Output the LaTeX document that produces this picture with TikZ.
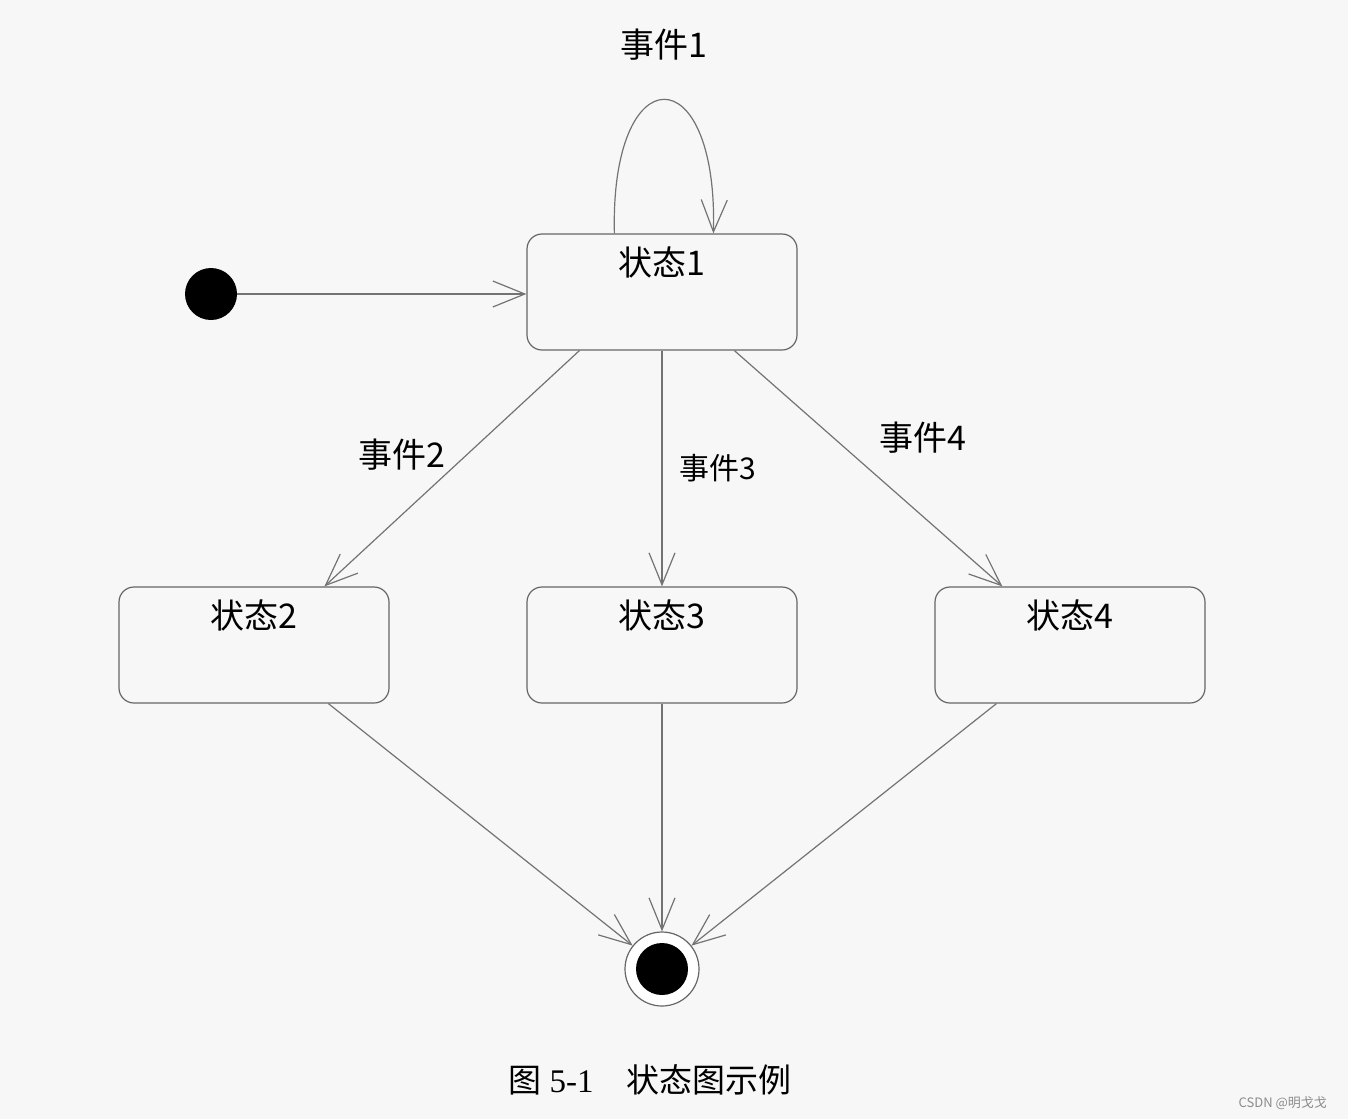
\documentclass[tikz,border=0pt]{standalone}
\usepackage{fontspec}
\setmainfont{Liberation Serif}
\newfontfamily\cjk{Noto Sans CJK SC}
\usepackage{tikz}
\usepackage{xcolor}
\usetikzlibrary{arrows.meta}

\begin{document}
\begin{tikzpicture}[x=0.5pt,y=-0.5pt,
  every node/.style={font=\cjk\fontsize{17}{20}\selectfont},
  state/.style={draw=black!60,line width=0.6pt,rounded corners=7.5pt,
    minimum width=135pt,minimum height=58pt,inner sep=0pt},
  trans/.style={draw=black!55,line width=0.6pt,-{Straight Barb[length=16pt,width=13pt]}}]
\fill[black!3] (0,0) rectangle (1348,1119);
\useasboundingbox (0,0) rectangle (1348,1119);
% states
\node[circle,fill=black,minimum size=26pt,inner sep=0pt] (init) at (211,294) {};
\node[state,label={[anchor=north,yshift=-3pt]north:状态1}] (s1) at (662,292) {};
\node[state,label={[anchor=north,yshift=-3pt]north:状态2}] (s2) at (254,645) {};
\node[state,label={[anchor=north,yshift=-3pt]north:状态3}] (s3) at (662,645) {};
\node[state,label={[anchor=north,yshift=-3pt]north:状态4}] (s4) at (1070,645) {};
\node[circle,draw=black!60,line width=0.6pt,fill=white,minimum size=37pt,inner sep=0pt] (fin) at (662,969) {};
\fill[black] (fin) circle (13pt);
% transitions
\draw[trans] (init) -- (init -| s1.west);
\draw[trans] ([xshift=44pt]s1.north west) .. controls (610,55) and (718,55) .. ([xshift=93.5pt]s1.north west);
\draw[trans] ([xshift=26.5pt]s1.south west) -- ([xshift=103pt]s2.north west);
\draw[trans] (s1.south) -- (s3.north);
\draw[trans] ([xshift=104pt]s1.south west) -- ([xshift=34pt]s4.north west);
\draw[trans] ([xshift=105pt]s2.south west) -- (fin);
\draw[trans] (s3.south) -- (fin);
\draw[trans] ([xshift=31pt]s4.south west) -- (fin);
% event labels
\node (e1) at (664,45) {事件1};
\node (e2) at (402,455) {事件2};
\node[font=\cjk\fontsize{15}{18}\selectfont] (e3) at (718,468) {事件3};
\node (e4) at (923,438) {事件4};
% caption
\node[font=\fontsize{16.5}{20}\selectfont] (cap) at (650,1080) {{\cjk 图} 5-1\quad{\cjk 状态图示例}};
\node[font=\cjk\fontsize{6.5}{8}\selectfont,text=black!45,anchor=east] (wm) at (1334,1103) {CSDN @明戈戈};
\end{tikzpicture}
\end{document}
